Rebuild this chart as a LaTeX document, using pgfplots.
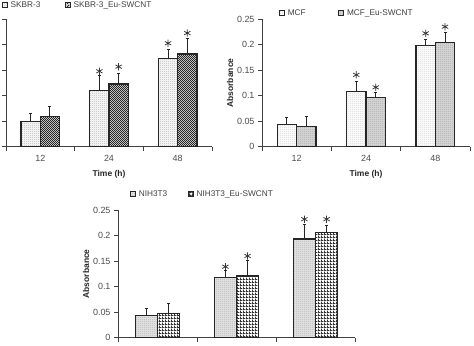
\documentclass[border=0pt]{standalone}
\usepackage{fontspec}
\setmainfont{Liberation Sans}
\usepackage{pgfplots}
\pgfplotsset{compat=1.18}
\usetikzlibrary{patterns}

\pgfdeclarepatternformonly{finecheck}{\pgfpointorigin}{\pgfpoint{2.4bp}{2.4bp}}{\pgfpoint{2.4bp}{2.4bp}}{%
  \pgfpathrectangle{\pgfpointorigin}{\pgfpoint{1.2bp}{1.2bp}}%
  \pgfpathrectangle{\pgfpoint{1.2bp}{1.2bp}}{\pgfpoint{1.2bp}{1.2bp}}%
  \pgfusepath{fill}}
\pgfdeclarepatternformonly{dotgrid}{\pgfpointorigin}{\pgfpoint{3bp}{3bp}}{\pgfpoint{3bp}{3bp}}{%
  \pgfpathrectangle{\pgfpointorigin}{\pgfpoint{3bp}{1.3bp}}%
  \pgfpathrectangle{\pgfpointorigin}{\pgfpoint{1.3bp}{3bp}}%
  \pgfusepath{fill}}
\pgfdeclarepatternformonly{finedots}{\pgfpointorigin}{\pgfpoint{2bp}{2bp}}{\pgfpoint{2bp}{2bp}}{%
  \pgfpathrectangle{\pgfpointorigin}{\pgfpoint{0.9bp}{0.9bp}}%
  \pgfusepath{fill}}

\pgfplotsset{
  panel/.style={
    scale only axis, height=127.4bp,
    xmin=-0.5, xmax=2.5, ymin=0, ymax=0.25,
    axis x line=bottom, axis y line=left,
    axis line style={-, line width=0.8bp, black!75},
    tick style={line width=0.8bp, black!75},
    tick align=outside,
    major tick length=4bp, minor tick length=4bp,
    xtick={0,1,2}, xticklabels={12,24,48},
    major x tick style={draw=none},
    minor xtick={-0.5,0.5,1.5,2.5},
    ytick={0,0.05,0.1,0.15,0.2,0.25},
    scaled y ticks=false,
    yticklabel style={/pgf/number format/fixed, /pgf/number format/precision=2,
      /pgf/number format/assume math mode=true, font=\fontsize{9}{10}\selectfont, text=black!70},
    xticklabel style={font=\fontsize{9}{10}\selectfont, text=black!70, yshift=-1.5bp},
    label style={font=\bfseries\fontsize{8.5}{10}\selectfont, text=black!85},
    xlabel style={at={([yshift=-28bp]axis description cs:0.5,0)}, anchor=center},
    ylabel style={at={([xshift=-32bp]axis description cs:0,0.5)}, anchor=center},
    legend columns=2,
    legend image code/.code={\draw[#1, line width=0.8bp] (0bp,-2.5bp) rectangle (5bp,2.5bp);},
    legend style={draw=none, fill=none, inner sep=0pt, outer sep=0pt,
      font=\fontsize{8.3}{10}\selectfont, text=black!75,
      nodes={inner sep=0.5bp}, anchor=west,
      /tikz/every odd column/.style={column sep=2.5bp}},
    legend cell align=left,
    error bars/y dir=plus, error bars/y explicit,
    error bars/error bar style={line width=1bp, black!85},
    error bars/error mark options={rotate=90, line width=1bp, black!85, mark size=1.5bp},
  },
  barL/.style={ybar, bar width=0.28, bar shift=0, draw=black!85, line width=1.3bp},
  barR/.style={ybar, bar width=0.28, bar shift=0, draw=black!85, line width=1.3bp},
  stars/.style={only marks, mark=asterisk, mark size=3.6bp, black!80, mark options={line width=0.75bp}, forget plot},
}

\begin{document}
\begin{tikzpicture}
\useasboundingbox (0,0) rectangle (474bp,346bp);
\clip (0,0) rectangle (474bp,346bp);

% ---------------- Panel A ----------------
\begin{axis}[panel, at={(6bp,199.3bp)}, anchor=south west, width=206bp,
  yticklabels={}, xlabel={Time (h)},
  legend style={at={(0,1)}, xshift=-4.3bp, yshift=14.1bp,
    /tikz/every even column/.style={column sep=24bp}}]
\addplot[barL, fill=gray!10, postaction={pattern=finedots, pattern color=gray!75}]
  coordinates {(-0.14,0.050) +- (0,0.016) (0.86,0.110) +- (0,0.029) (1.86,0.173) +- (0,0.017)};
\addplot[barR, fill=gray!30, postaction={pattern=finecheck, pattern color=black!85}]
  coordinates {(0.14,0.059) +- (0,0.019) (1.14,0.123) +- (0,0.021) (2.14,0.182) +- (0,0.031)};
\legend{SKBR-3, SKBR-3\_Eu-SWCNT}
\addplot[stars] coordinates {(0.86,0.148) (1.14,0.157) (1.86,0.203) (2.14,0.223)};
\end{axis}

% ---------------- Panel B ----------------
\begin{axis}[panel, at={(262bp,199.3bp)}, anchor=south west, width=208bp,
  xlabel={Time (h)}, ylabel={Absorbance},
  legend style={at={(0,1)}, xshift=17bp, yshift=6bp,
    /tikz/every even column/.style={column sep=32bp}}]
\addplot[barL, fill=gray!5, postaction={pattern=finedots, pattern color=gray!45}]
  coordinates {(-0.14,0.043) +- (0,0.015) (0.86,0.108) +- (0,0.020) (1.86,0.198) +- (0,0.013)};
\addplot[barR, fill=gray!35, postaction={pattern=finedots, pattern color=gray!80}]
  coordinates {(0.14,0.039) +- (0,0.020) (1.14,0.096) +- (0,0.011) (2.14,0.204) +- (0,0.021)};
\legend{MCF, MCF\_Eu-SWCNT}
\addplot[stars] coordinates {(0.86,0.141) (1.14,0.1165) (1.86,0.2225) (2.14,0.2355)};
\end{axis}

% ---------------- Panel C ----------------
\begin{axis}[panel, at={(118bp,8.3bp)}, anchor=south west, width=237bp, height=127.7bp,
  xticklabels={}, ylabel={Absorbance},
  legend style={at={(0,1)}, xshift=12bp, yshift=16bp,
    /tikz/every even column/.style={column sep=20bp}}]
\addplot[barL, fill=gray!25, postaction={pattern=finedots, pattern color=gray!75}]
  coordinates {(-0.14,0.044) +- (0,0.0135) (0.86,0.118) +- (0,0.013) (1.86,0.193) +- (0,0.029)};
\addplot[barR, fill=white, postaction={pattern=dotgrid, pattern color=black!80}]
  coordinates {(0.14,0.048) +- (0,0.019) (1.14,0.121) +- (0,0.030) (2.14,0.206) +- (0,0.013)};
\legend{NIH3T3, NIH3T3\_Eu-SWCNT}
\addplot[stars] coordinates {(0.86,0.139) (1.14,0.160) (1.86,0.232) (2.14,0.232)};
\node[font=\bfseries\fontsize{14}{16}\selectfont, text=black!85] at (rel axis cs:-0.224,1.094) {C};
\end{axis}
\end{tikzpicture}
\end{document}
